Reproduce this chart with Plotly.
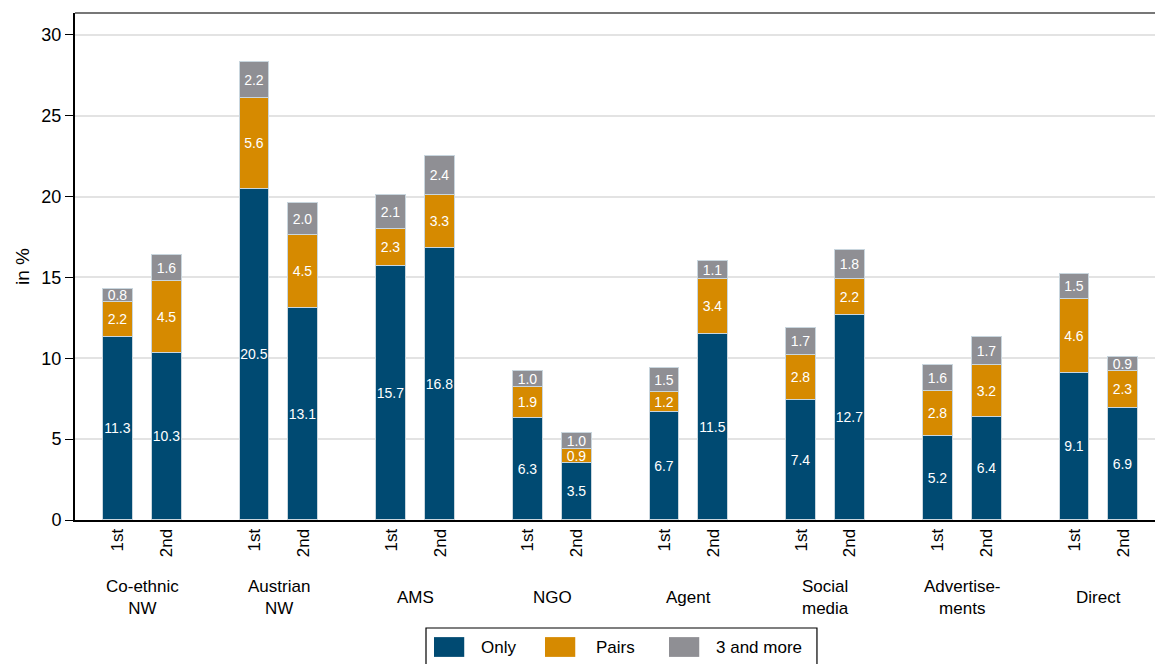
import plotly.graph_objects as go

groups = ["Co-ethnic<br>NW", "Austrian<br>NW", "AMS", "NGO", "Agent",
          "Social<br>media", "Advertise-<br>ments", "Direct"]
gens = ["1st", "2nd"]

# values per bar, ordered group by group: 1st, 2nd
only = [11.3, 10.3, 20.5, 13.1, 15.7, 16.8, 6.3, 3.5,
        6.7, 11.5, 7.4, 12.7, 5.2, 6.4, 9.1, 6.9]
pairs = [2.2, 4.5, 5.6, 4.5, 2.3, 3.3, 1.9, 0.9,
         1.2, 3.4, 2.8, 2.2, 2.8, 3.2, 4.6, 2.3]
three_more = [0.8, 1.6, 2.2, 2.0, 2.1, 2.4, 1.0, 1.0,
              1.5, 1.1, 1.7, 1.8, 1.6, 1.7, 1.5, 0.9]

GAP = 2.8  # distance between group starts, in bar-spacing units
xpos = [g * GAP + j for g in range(len(groups)) for j in range(len(gens))]
xlabels = [s for _ in groups for s in gens]
group_mid = [g * GAP + 0.5 for g in range(len(groups))]

series = [("Only", only, "#004a72"),
          ("Pairs", pairs, "#d68a00"),
          ("3 and more", three_more, "#8f8f94")]

fig = go.Figure()
for name, vals, col in series:
    fig.add_trace(go.Bar(
        x=xpos, y=vals, name=name, width=0.61, showlegend=False,
        marker=dict(color=col, line=dict(color="#c9d6de", width=1)),
        text=[f"{v:.1f}" for v in vals], textposition="inside",
        insidetextanchor="middle", textangle=0, constraintext="none",
        textfont=dict(color="white", size=14, family="Liberation Sans, Arial"),
    ))

for xm, lab in zip(group_mid, groups):
    fig.add_annotation(x=xm, y=-0.153, xref="x", yref="paper", text=lab,
                       showarrow=False, yanchor="middle",
                       font=dict(size=17, color="black"))

# hand-drawn legend box (Stata style, large swatches)
fig.add_shape(type="rect", xref="paper", yref="paper",
              x0=0.325, x1=0.687, y0=-0.33, y1=-0.213,
              line=dict(color="black", width=1.2), fillcolor="white")
swatch_x = [0.3324, 0.4352, 0.55]
text_x = [0.374, 0.4806, 0.5917]
for (name, _, col), sx, tx in zip(series, swatch_x, text_x):
    fig.add_shape(type="rect", xref="paper", yref="paper",
                  x0=sx, x1=sx + 0.028, y0=-0.270, y1=-0.231,
                  line=dict(width=0), fillcolor=col)
    fig.add_annotation(x=tx, y=-0.2505, xref="paper", yref="paper", text=name,
                       showarrow=False, xanchor="left", yanchor="middle",
                       font=dict(size=17, color="black"))

fig.update_layout(
    barmode="stack",
    width=1155, height=664,
    margin=dict(l=75, r=0, t=13, b=144),
    plot_bgcolor="white", paper_bgcolor="white",
    font=dict(family="Liberation Sans, Arial", color="black"),
    showlegend=False,
    xaxis=dict(range=[-0.878, 21.25], tickvals=xpos, ticktext=xlabels,
               tickangle=-90, tickfont=dict(size=17), showgrid=False,
               showline=True, linecolor="black", linewidth=2, mirror=False,
               ticks="", zeroline=False, automargin=False),
    yaxis=dict(range=[0, 31.36], tickvals=[0, 5, 10, 15, 20, 25, 30],
               tickfont=dict(size=18), showgrid=True, gridcolor="#e3e3e3",
               gridwidth=1.5, showline=True, linecolor="black", linewidth=2,
               ticks="outside", ticklen=8, tickcolor="black", zeroline=False,
               automargin=False,
               title=dict(text="in %", font=dict(size=19), standoff=7)),
    bargap=0,
)
fig.add_shape(type="line", xref="paper", yref="paper", x0=0, x1=1, y0=1, y1=1,
              line=dict(color="#777777", width=2))

# drop the browser's default body margin so the figure sits at (0, 0)
fig.write_html("out.html", config={"displayModeBar": False},
               post_script="document.body.style.margin='0';"
                           "document.body.style.overflow='hidden';")
